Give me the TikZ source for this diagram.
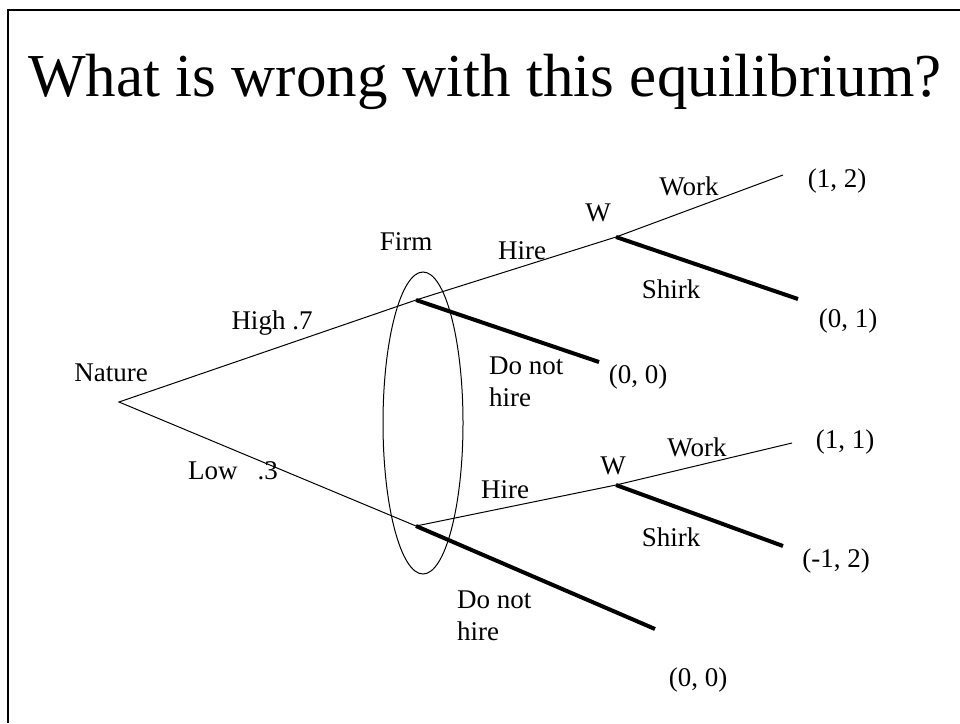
\documentclass[tikz,border=0pt]{standalone}
\usepackage{fontspec}
\setmainfont{Liberation Serif}
\begin{document}
\begin{tikzpicture}[x=1pt,y=-1pt,
    lbl/.style={inner sep=0pt,text height=18pt,text depth=0pt,
      font=\fontsize{27}{32}\selectfont},
    twoline/.style={inner sep=0pt,align=left,anchor=north west,
      font=\fontsize{27}{32}\selectfont},
    branch/.style={line width=1pt},
    chosen/.style={line width=4pt}]
    \useasboundingbox (0,0) rectangle (960,723);

    % slide frame
    \draw[line width=1.5pt] (8,723) -- (8,10) -- (960,10);

    \node[inner sep=0pt,text height=41pt,text depth=0pt,
      font=\fontsize{61}{67}\selectfont] (title) at (485,76)
      {What is wrong with this equilibrium?};

    % decision points
    \coordinate (nat) at (119,402);
    \coordinate (fhi) at (416,300);
    \coordinate (flo) at (416,526);
    \coordinate (whi) at (616,237);
    \coordinate (wlo) at (616,485);
    % end points
    \coordinate (hiwork)  at (783,175);
    \coordinate (hishirk) at (798,299);
    \coordinate (hinot)   at (599,362);
    \coordinate (lowork)  at (792,443);
    \coordinate (loshirk) at (783,546);
    \coordinate (lonot)   at (655,629);

    % information set of the firm
    \draw[line width=1pt] (423,423) ellipse (40 and 151);

    \draw[branch] (fhi) -- (nat) -- (flo);
    \draw[branch] (fhi) -- (whi) -- (hiwork);
    \draw[branch] (flo) -- (wlo) -- (lowork);
    \draw[chosen] (fhi) -- (hinot);
    \draw[chosen] (flo) -- (lonot);
    \draw[chosen] (whi) -- (hishirk);
    \draw[chosen] (wlo) -- (loshirk);

    \node[lbl] (nature) at (111,372) {Nature};
    \node[lbl] (high) at (272,320) {High .7};
    \node[lbl] (low) at (233,470) {Low\ \ \ .3};
    \node[lbl] (firm) at (406,241) {Firm};

    \node[lbl] (hirehi) at (522,250) {Hire};
    \node[lbl] (whilbl) at (598,212) {W};
    \node[lbl] (workhi) at (689,186) {Work};
    \node[lbl] (shirkhi) at (671,289) {Shirk};
    \node[twoline] (nothi) at (489,357) {Do not\\ hire};

    \node[lbl] (hirelo) at (505,489) {Hire};
    \node[lbl] (wlolbl) at (613,465) {W};
    \node[lbl] (worklo) at (697,447) {Work};
    \node[lbl] (shirklo) at (671,537) {Shirk};
    \node[twoline] (notlo) at (457,591) {Do not\\hire};

    \node[lbl] (p12) at (837,178) {(1, 2)};
    \node[lbl] (p01) at (848,318) {(0, 1)};
    \node[lbl] (p00a) at (638,374) {(0, 0)};
    \node[lbl] (p11) at (845,439) {(1, 1)};
    \node[lbl] (pm12) at (836,558) {(-1, 2)};
    \node[lbl] (p00b) at (698,677) {(0, 0)};
\end{tikzpicture}
\end{document}
